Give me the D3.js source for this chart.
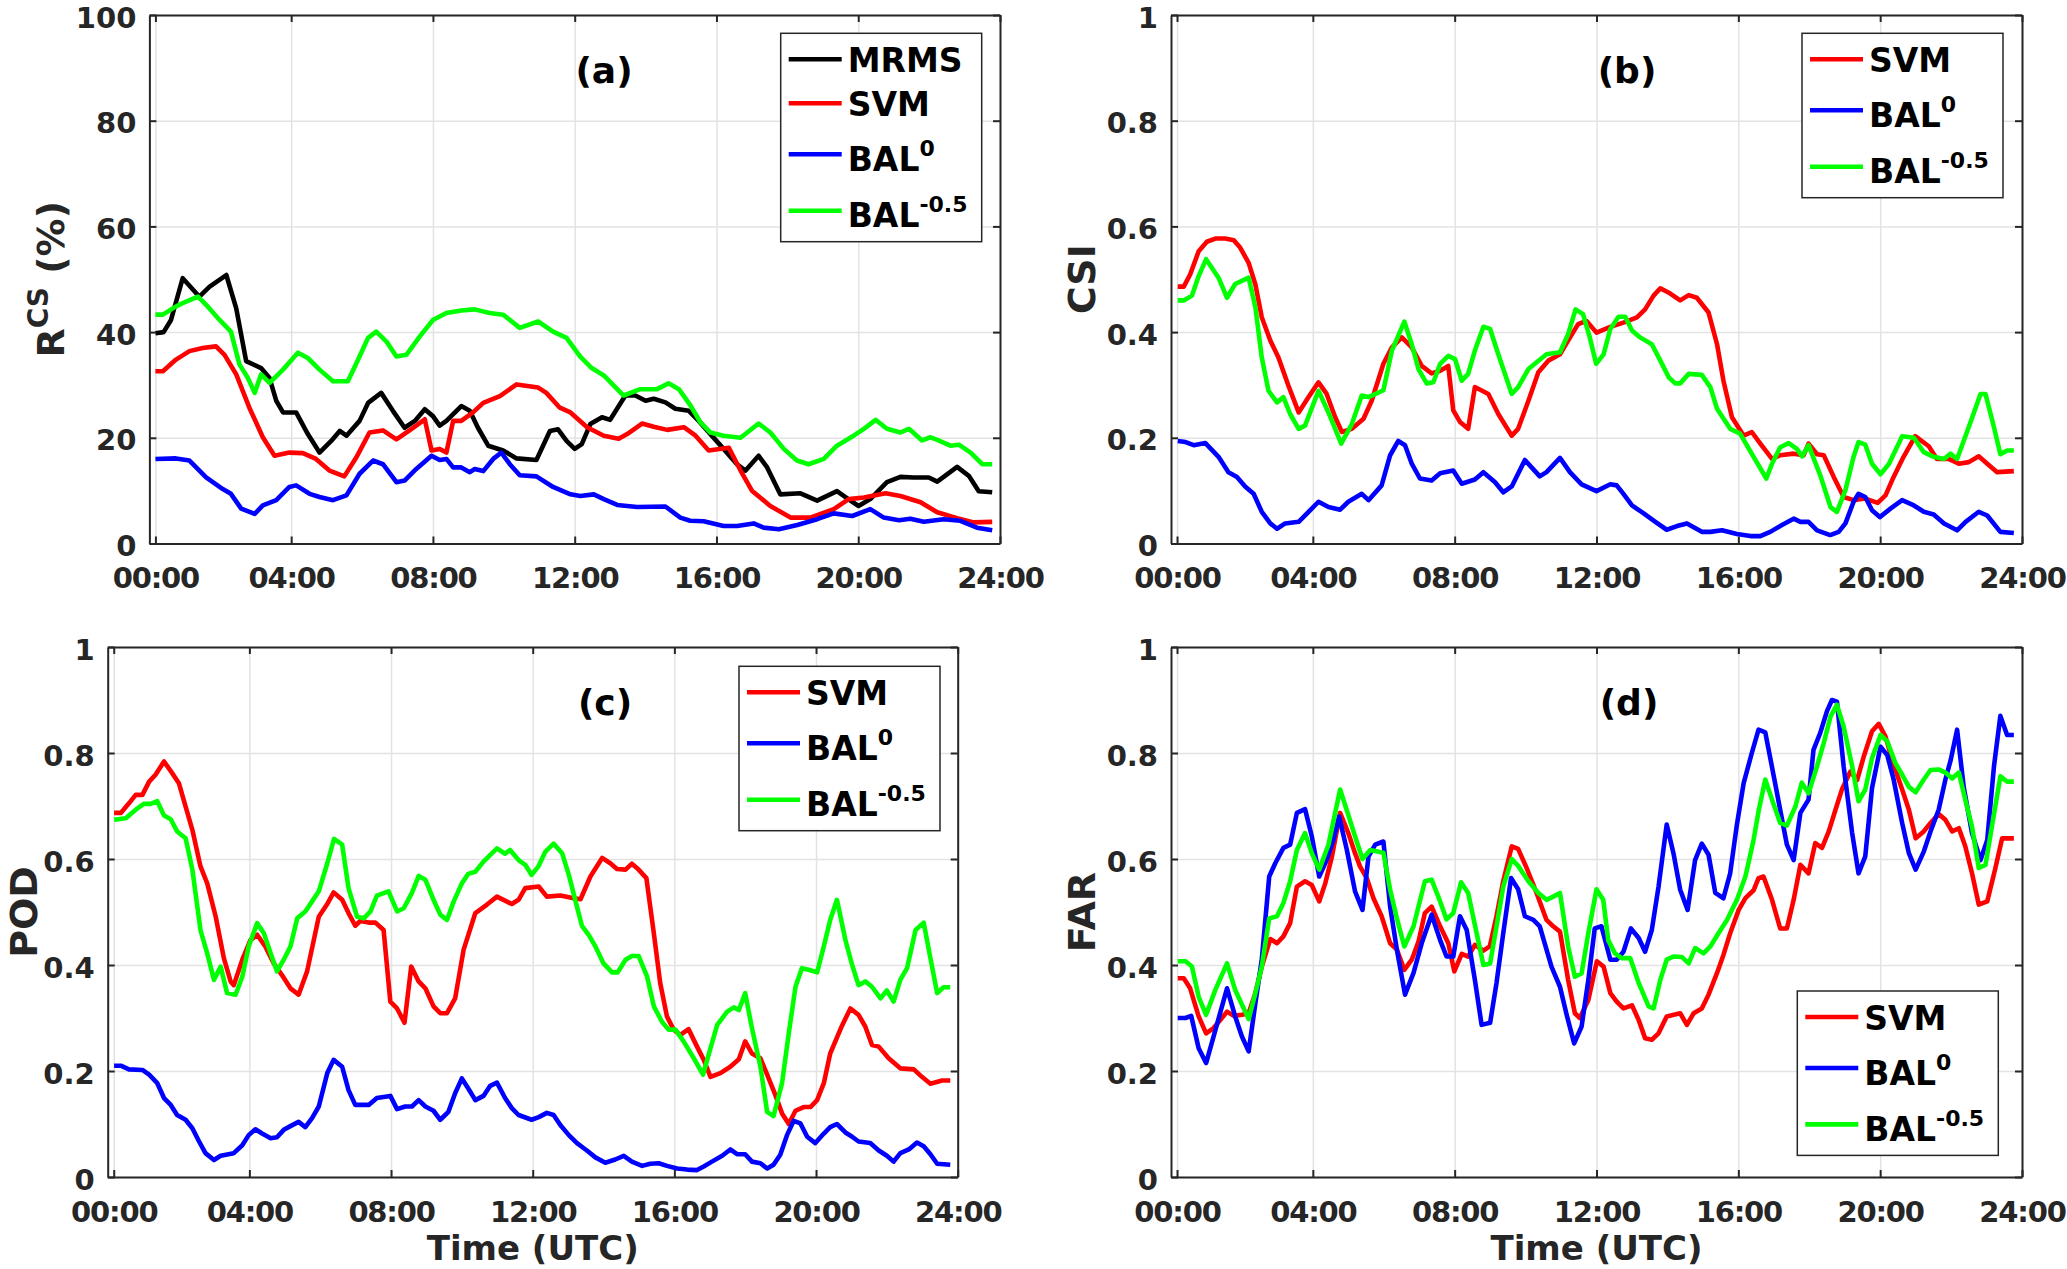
<!DOCTYPE html>
<html>
<head>
<meta charset="utf-8">
<script src="https://cdn.jsdelivr.net/npm/d3@7"></script>
<style>
  html, body { margin: 0; padding: 0; background: #fff; overflow: hidden; }
</style>
</head>
<body>
<div id="chart"></div>
<script>
const FONT = "'DejaVu Sans', 'Liberation Sans', sans-serif";
const INK = '#262626';

// x axis: hours of the day (first tick sits on the first 10-min sample)
const hourTicks = [0.17, 4, 8, 12, 16, 20, 24];
const hourLabels = ['00:00', '04:00', '08:00', '12:00', '16:00', '20:00', '24:00'];
const rcsTicks = [0, 20, 40, 60, 80, 100];
const rcsLabels = ['0', '20', '40', '60', '80', '100'];
const scoreTicks = [0, 0.2, 0.4, 0.6, 0.8, 1];
const scoreLabels = ['0', '0.2', '0.4', '0.6', '0.8', '1'];

// (a) R^CS (%)  -- [hour, value]
const rcsMRMS = [[0.17,39.8],[0.4,40],[0.61,42.3],[0.94,50.2],[1.41,46.7],[1.7,48.6],[2.17,50.8],[2.45,44.5],[2.73,34.5],[3.15,33.2],[3.39,31.3],[3.58,27],[3.77,24.8],[4.14,24.8],[4.47,20.7],[4.8,17.2],[5.13,19.4],[5.37,21.3],[5.56,20.4],[5.93,23.2],[6.17,26.6],[6.54,28.5],[6.87,25.1],[7.2,21.9],[7.49,23.2],[7.77,25.4],[8.0,24.1],[8.19,22.3],[8.38,23.2],[8.8,26.0],[9.04,25.1],[9.27,21.9],[9.56,18.5],[9.98,17.6],[10.36,16.1],[10.92,15.8],[11.3,21.3],[11.53,21.6],[11.77,19.4],[12.0,17.9],[12.2,18.8],[12.44,22.6],[12.77,23.9],[13.0,23.4],[13.43,28],[13.71,28],[14.0,27],[14.23,27.4],[14.56,26.7],[14.84,25.5],[15.22,25.1],[15.5,23.2],[15.83,20.7],[16.2,17.9],[16.58,15],[16.82,13.8],[17.19,16.6],[17.43,14.4],[17.8,9.3],[18.37,9.5],[18.84,8.1],[19.4,9.9],[19.78,8.1],[20.01,7.1],[20.34,8.4],[20.81,11.6],[21.19,12.6],[21.56,12.5],[21.99,12.5],[22.23,11.7],[22.79,14.5],[23.12,12.8],[23.4,9.9],[23.78,9.7]];
const rcsSVM = [[0.17,32.6],[0.38,32.6],[0.75,34.8],[1.13,36.4],[1.5,37],[1.88,37.3],[2.12,35.7],[2.45,32],[2.82,25.7],[3.2,20.1],[3.53,16.6],[3.95,17.2],[4.33,17.1],[4.7,16],[5.08,13.8],[5.5,12.7],[5.84,16.3],[6.21,21],[6.59,21.4],[6.97,19.7],[7.34,21.4],[7.77,23.5],[7.96,17.6],[8.19,17.9],[8.38,17.2],[8.57,23.2],[8.8,23.2],[9.13,24.8],[9.42,26.6],[9.89,27.9],[10.36,30.1],[10.97,29.5],[11.2,28.5],[11.58,25.7],[11.88,24.8],[12.35,22],[12.82,20.4],[13.24,19.8],[13.48,20.7],[13.9,22.7],[14.23,22.1],[14.61,21.5],[15.08,22],[15.41,20.4],[15.78,17.6],[16.35,18.1],[16.68,13.8],[17.0,10],[17.52,7.1],[18.09,4.9],[18.65,4.9],[19.31,6.5],[19.73,8.4],[20.16,8.7],[20.77,9.5],[21.19,9.0],[21.76,7.8],[22.23,5.9],[22.79,4.8],[23.26,4.0],[23.78,4.1]];
const rcsBAL0 = [[0.17,16],[0.75,16.1],[1.13,15.7],[1.6,12.5],[2.07,10.3],[2.3,9.4],[2.59,6.6],[2.97,5.6],[3.2,7.2],[3.58,8.2],[3.95,10.7],[4.14,11],[4.52,9.4],[4.8,8.8],[5.18,8.2],[5.56,9.1],[5.93,13.2],[6.31,15.7],[6.59,15],[6.97,11.6],[7.2,11.9],[7.53,14.1],[7.96,16.6],[8.19,15.8],[8.38,16],[8.57,14.4],[8.8,14.4],[9.04,13.5],[9.18,14.1],[9.42,13.7],[9.7,16],[9.93,17.2],[10.17,15],[10.45,12.9],[10.92,12.7],[11.39,10.7],[11.88,9.3],[12.16,9.0],[12.54,9.3],[12.82,8.4],[13.2,7.3],[13.76,6.9],[14.56,7.0],[14.98,4.9],[15.26,4.3],[15.64,4.2],[16.2,3.3],[16.58,3.3],[17.05,3.8],[17.33,3.0],[17.76,2.7],[18.28,3.5],[18.84,4.6],[19.31,5.7],[19.83,5.2],[20.34,6.5],[20.72,4.9],[21.15,4.4],[21.47,4.7],[21.85,4.1],[22.41,4.6],[22.88,4.3],[23.35,3.0],[23.78,2.5]];
const rcsBAL05 = [[0.17,43.3],[0.38,43.3],[0.66,44.5],[0.94,45.5],[1.37,46.7],[1.65,44.8],[1.98,42.3],[2.3,40.1],[2.54,33.9],[2.78,31.3],[2.97,28.5],[3.15,32],[3.39,30.4],[3.77,32.9],[4.19,36.1],[4.47,35.1],[4.8,32.9],[5.18,30.7],[5.6,30.7],[5.89,34.8],[6.17,38.9],[6.4,40.1],[6.69,38.2],[6.97,35.4],[7.25,35.7],[7.63,39.2],[8.0,42.3],[8.38,43.6],[8.8,44.1],[9.18,44.3],[9.6,43.6],[9.98,43.3],[10.45,40.8],[10.97,42],[11.39,40.1],[11.77,38.9],[12.15,35.4],[12.48,33.2],[12.82,31.8],[13.38,28],[13.85,29.2],[14.32,29.2],[14.65,30.3],[14.94,29.2],[15.27,26.1],[15.55,22.9],[15.83,21],[16.2,20.4],[16.68,20],[17.19,22.7],[17.52,21],[17.9,17.9],[18.27,15.7],[18.6,15],[19.03,16],[19.4,18.5],[19.87,20.4],[20.16,21.7],[20.49,23.4],[20.81,21.7],[21.19,21],[21.43,21.7],[21.8,19.5],[22.04,20.1],[22.23,19.6],[22.6,18.5],[22.84,18.7],[23.17,17.2],[23.5,15],[23.78,15]];

// (b) CSI
const csiSVM = [[0.19,0.486],[0.36,0.486],[0.54,0.509],[0.78,0.553],[1.01,0.571],[1.25,0.577],[1.53,0.577],[1.77,0.574],[1.95,0.56],[2.19,0.531],[2.38,0.49],[2.56,0.428],[2.8,0.384],[3.03,0.352],[3.31,0.299],[3.6,0.248],[3.88,0.277],[4.16,0.305],[4.39,0.283],[4.63,0.239],[4.82,0.211],[5.1,0.217],[5.43,0.236],[5.66,0.27],[5.99,0.34],[6.23,0.371],[6.51,0.39],[6.79,0.371],[7.07,0.336],[7.35,0.322],[7.59,0.327],[7.82,0.336],[7.96,0.252],[8.15,0.23],[8.38,0.217],[8.57,0.296],[8.95,0.283],[9.23,0.245],[9.61,0.204],[9.79,0.217],[10.08,0.27],[10.36,0.324],[10.64,0.346],[10.97,0.358],[11.2,0.384],[11.48,0.415],[11.72,0.421],[12.0,0.399],[12.39,0.41],[12.76,0.418],[13.14,0.428],[13.37,0.443],[13.61,0.469],[13.8,0.483],[14.08,0.473],[14.36,0.46],[14.6,0.47],[14.83,0.465],[15.16,0.437],[15.4,0.377],[15.58,0.308],[15.82,0.239],[16.15,0.204],[16.38,0.211],[16.62,0.189],[16.95,0.16],[17.18,0.167],[17.56,0.17],[17.84,0.167],[17.98,0.189],[18.22,0.169],[18.41,0.167],[18.69,0.126],[18.97,0.088],[19.25,0.082],[19.58,0.085],[19.93,0.077],[20.15,0.091],[20.38,0.126],[20.66,0.164],[20.99,0.203],[21.37,0.184],[21.6,0.16],[21.93,0.16],[22.22,0.151],[22.5,0.154],[22.78,0.165],[23.02,0.151],[23.3,0.135],[23.77,0.137]];
const csiBAL0 = [[0.19,0.194],[0.41,0.192],[0.64,0.186],[0.97,0.19],[1.34,0.164],[1.62,0.135],[1.86,0.126],[2.09,0.108],[2.33,0.094],[2.56,0.06],[2.8,0.038],[2.99,0.028],[3.22,0.038],[3.6,0.041],[3.88,0.06],[4.16,0.079],[4.44,0.069],[4.77,0.064],[5.0,0.079],[5.38,0.094],[5.57,0.082],[5.94,0.11],[6.18,0.167],[6.41,0.194],[6.6,0.186],[6.79,0.151],[7.02,0.123],[7.35,0.119],[7.59,0.133],[7.96,0.138],[8.2,0.113],[8.57,0.121],[8.81,0.135],[9.14,0.116],[9.37,0.097],[9.61,0.108],[9.98,0.158],[10.4,0.127],[10.59,0.135],[10.97,0.162],[11.25,0.135],[11.58,0.112],[12.0,0.099],[12.39,0.112],[12.57,0.11],[12.76,0.094],[13.0,0.072],[13.33,0.057],[13.66,0.041],[13.98,0.026],[14.27,0.033],[14.55,0.038],[14.97,0.022],[15.21,0.022],[15.54,0.025],[15.96,0.018],[16.34,0.014],[16.62,0.014],[16.9,0.022],[17.23,0.035],[17.56,0.047],[17.75,0.041],[17.98,0.041],[18.22,0.025],[18.59,0.016],[18.83,0.022],[19.02,0.038],[19.25,0.079],[19.39,0.094],[19.58,0.088],[19.77,0.063],[19.99,0.05],[20.29,0.066],[20.62,0.082],[20.95,0.072],[21.23,0.06],[21.51,0.055],[21.8,0.038],[22.17,0.025],[22.41,0.041],[22.78,0.06],[23.02,0.053],[23.39,0.022],[23.77,0.02]];
const csiBAL05 = [[0.19,0.46],[0.36,0.46],[0.59,0.469],[0.78,0.506],[0.99,0.538],[1.34,0.503],[1.58,0.465],[1.81,0.491],[2.19,0.503],[2.38,0.447],[2.56,0.352],[2.75,0.289],[2.99,0.267],[3.17,0.277],[3.36,0.245],[3.6,0.217],[3.78,0.223],[4.16,0.289],[4.44,0.248],[4.8,0.189],[5.1,0.226],[5.38,0.28],[5.57,0.277],[5.99,0.29],[6.23,0.365],[6.58,0.42],[6.79,0.377],[6.98,0.33],[7.21,0.303],[7.4,0.305],[7.59,0.34],[7.82,0.355],[8.01,0.349],[8.2,0.308],[8.38,0.321],[8.57,0.365],[8.81,0.41],[9.0,0.406],[9.23,0.358],[9.61,0.283],[9.79,0.296],[10.08,0.33],[10.26,0.34],[10.59,0.358],[10.97,0.362],[11.2,0.396],[11.41,0.443],[11.62,0.434],[11.81,0.39],[11.99,0.34],[12.2,0.358],[12.39,0.406],[12.62,0.429],[12.81,0.429],[13.0,0.403],[13.23,0.39],[13.56,0.377],[13.8,0.346],[14.04,0.314],[14.22,0.303],[14.36,0.303],[14.6,0.321],[14.97,0.319],[15.21,0.296],[15.4,0.255],[15.77,0.217],[16.05,0.208],[16.43,0.164],[16.79,0.123],[16.95,0.151],[17.18,0.182],[17.42,0.19],[17.65,0.179],[17.8,0.165],[17.98,0.186],[18.31,0.129],[18.6,0.069],[18.78,0.06],[19.02,0.101],[19.25,0.164],[19.39,0.192],[19.58,0.187],[19.77,0.151],[20.01,0.131],[20.25,0.151],[20.62,0.203],[20.95,0.2],[21.23,0.173],[21.51,0.164],[21.8,0.16],[21.98,0.17],[22.17,0.16],[22.55,0.23],[22.83,0.283],[22.97,0.283],[23.21,0.22],[23.39,0.169],[23.58,0.176],[23.77,0.176]];

// (c) POD
const podSVM = [[0.18,0.687],[0.37,0.687],[0.6,0.705],[0.79,0.721],[0.98,0.721],[1.17,0.746],[1.35,0.759],[1.59,0.784],[1.82,0.762],[2.01,0.743],[2.2,0.699],[2.39,0.655],[2.62,0.586],[2.81,0.554],[3.05,0.491],[3.28,0.413],[3.47,0.369],[3.56,0.362],[3.8,0.41],[4.03,0.447],[4.22,0.457],[4.45,0.435],[4.69,0.403],[4.92,0.381],[5.16,0.356],[5.39,0.344],[5.63,0.388],[5.96,0.491],[6.19,0.514],[6.38,0.537],[6.62,0.523],[6.8,0.498],[6.99,0.474],[7.13,0.483],[7.37,0.48],[7.56,0.48],[7.79,0.466],[7.98,0.331],[8.17,0.318],[8.38,0.291],[8.57,0.397],[8.78,0.369],[8.97,0.356],[9.2,0.322],[9.39,0.309],[9.58,0.309],[9.81,0.337],[10.05,0.429],[10.38,0.498],[10.71,0.514],[10.99,0.529],[11.41,0.515],[11.6,0.523],[11.79,0.545],[12.17,0.548],[12.4,0.529],[12.78,0.531],[13.16,0.526],[13.35,0.524],[13.63,0.567],[13.96,0.602],[14.19,0.592],[14.38,0.581],[14.62,0.58],[14.8,0.591],[14.99,0.58],[15.21,0.564],[15.42,0.46],[15.6,0.366],[15.79,0.303],[15.98,0.278],[16.17,0.268],[16.4,0.279],[16.64,0.246],[16.83,0.221],[17.02,0.189],[17.3,0.196],[17.58,0.208],[17.82,0.222],[18.0,0.256],[18.19,0.233],[18.43,0.224],[18.62,0.193],[18.85,0.155],[19.04,0.12],[19.23,0.1],[19.42,0.125],[19.65,0.132],[19.84,0.132],[20.03,0.145],[20.22,0.177],[20.4,0.233],[20.73,0.285],[20.97,0.318],[21.2,0.306],[21.39,0.284],[21.58,0.249],[21.77,0.246],[22.05,0.224],[22.38,0.205],[22.76,0.203],[22.99,0.189],[23.23,0.176],[23.56,0.182],[23.79,0.182]];
const podBAL0 = [[0.18,0.21],[0.37,0.21],[0.6,0.203],[0.98,0.202],[1.17,0.193],[1.4,0.177],[1.59,0.149],[1.78,0.136],[1.96,0.117],[2.2,0.108],[2.39,0.092],[2.58,0.067],[2.76,0.045],[3.0,0.032],[3.19,0.04],[3.56,0.045],[3.8,0.06],[3.98,0.079],[4.17,0.09],[4.36,0.082],[4.6,0.073],[4.78,0.075],[4.97,0.089],[5.16,0.096],[5.39,0.104],[5.58,0.094],[5.77,0.111],[5.96,0.133],[6.2,0.196],[6.38,0.221],[6.62,0.208],[6.8,0.164],[6.99,0.136],[7.37,0.136],[7.6,0.149],[7.98,0.153],[8.17,0.128],[8.4,0.133],[8.59,0.133],[8.78,0.145],[8.97,0.133],[9.2,0.125],[9.39,0.108],[9.62,0.123],[9.81,0.158],[10.0,0.186],[10.19,0.166],[10.38,0.145],[10.61,0.153],[10.8,0.172],[10.99,0.178],[11.22,0.149],[11.41,0.13],[11.6,0.117],[11.97,0.108],[12.17,0.113],[12.4,0.121],[12.59,0.117],[12.78,0.098],[13.02,0.079],[13.25,0.064],[13.53,0.05],[13.77,0.037],[14.05,0.027],[14.33,0.033],[14.57,0.04],[14.8,0.029],[15.09,0.021],[15.32,0.025],[15.56,0.026],[15.79,0.021],[16.08,0.016],[16.36,0.014],[16.64,0.013],[16.83,0.02],[17.06,0.029],[17.35,0.04],[17.58,0.052],[17.77,0.043],[18.0,0.043],[18.19,0.029],[18.43,0.026],[18.62,0.016],[18.8,0.023],[18.99,0.042],[19.18,0.079],[19.37,0.106],[19.56,0.101],[19.75,0.076],[19.98,0.064],[20.22,0.082],[20.4,0.094],[20.59,0.1],[20.83,0.084],[21.02,0.076],[21.2,0.067],[21.53,0.064],[21.77,0.05],[22.0,0.04],[22.19,0.029],[22.38,0.045],[22.62,0.052],[22.85,0.065],[23.04,0.058],[23.23,0.043],[23.42,0.025],[23.79,0.023]];
const podBAL05 = [[0.18,0.674],[0.51,0.677],[0.79,0.693],[1.02,0.704],[1.21,0.704],[1.4,0.709],[1.59,0.682],[1.78,0.675],[1.96,0.652],[2.2,0.639],[2.39,0.58],[2.62,0.466],[2.81,0.422],[3.0,0.372],[3.19,0.397],[3.37,0.347],[3.61,0.344],[3.8,0.378],[3.98,0.435],[4.22,0.479],[4.41,0.46],[4.6,0.422],[4.78,0.388],[4.97,0.41],[5.16,0.435],[5.35,0.488],[5.58,0.501],[5.77,0.52],[5.96,0.539],[6.2,0.592],[6.39,0.638],[6.62,0.627],[6.8,0.545],[7.04,0.491],[7.23,0.488],[7.42,0.501],[7.6,0.531],[7.93,0.539],[8.17,0.501],[8.36,0.507],[8.59,0.536],[8.78,0.568],[8.97,0.561],[9.2,0.523],[9.39,0.495],[9.58,0.485],[9.77,0.52],[10.0,0.554],[10.18,0.572],[10.38,0.576],[10.61,0.595],[10.99,0.62],[11.22,0.61],[11.36,0.617],[11.6,0.598],[11.79,0.589],[11.97,0.57],[12.16,0.586],[12.36,0.614],[12.59,0.629],[12.83,0.611],[13.02,0.57],[13.2,0.523],[13.39,0.474],[13.58,0.457],[13.77,0.435],[14.0,0.403],[14.24,0.386],[14.4,0.386],[14.62,0.41],[14.8,0.417],[14.99,0.417],[15.23,0.378],[15.42,0.322],[15.65,0.293],[15.84,0.278],[16.03,0.278],[16.26,0.256],[16.55,0.224],[16.81,0.193],[17.02,0.243],[17.21,0.287],[17.49,0.312],[17.68,0.32],[17.82,0.315],[18.0,0.347],[18.19,0.281],[18.43,0.208],[18.62,0.123],[18.8,0.115],[19.04,0.177],[19.23,0.271],[19.42,0.359],[19.6,0.394],[19.79,0.391],[20.03,0.386],[20.22,0.435],[20.4,0.485],[20.59,0.523],[20.83,0.447],[21.02,0.4],[21.2,0.362],[21.39,0.369],[21.58,0.359],[21.82,0.337],[22.0,0.352],[22.19,0.331],[22.38,0.372],[22.57,0.394],[22.81,0.466],[23.04,0.48],[23.23,0.413],[23.42,0.347],[23.6,0.358],[23.79,0.358]];

// (d) FAR
const farSVM = [[0.19,0.375],[0.36,0.375],[0.54,0.356],[0.78,0.303],[0.99,0.271],[1.2,0.281],[1.39,0.296],[1.58,0.312],[1.77,0.304],[2.0,0.306],[2.19,0.309],[2.38,0.347],[2.56,0.397],[2.8,0.449],[2.99,0.441],[3.17,0.454],[3.36,0.479],[3.55,0.548],[3.78,0.558],[3.97,0.551],[4.18,0.52],[4.35,0.554],[4.54,0.605],[4.77,0.687],[5.0,0.649],[5.19,0.611],[5.33,0.586],[5.52,0.564],[5.71,0.526],[5.94,0.492],[6.18,0.441],[6.37,0.429],[6.58,0.391],[6.79,0.41],[6.98,0.444],[7.16,0.498],[7.35,0.51],[7.59,0.473],[7.82,0.441],[7.99,0.388],[8.2,0.421],[8.38,0.416],[8.57,0.438],[8.81,0.427],[8.99,0.435],[9.18,0.492],[9.37,0.558],[9.61,0.624],[9.79,0.619],[10.03,0.583],[10.31,0.536],[10.59,0.485],[10.78,0.473],[10.97,0.463],[11.2,0.372],[11.39,0.309],[11.53,0.3],[11.77,0.334],[12.01,0.407],[12.2,0.397],[12.39,0.347],[12.57,0.331],[12.76,0.318],[13.0,0.324],[13.19,0.296],[13.37,0.262],[13.56,0.259],[13.75,0.271],[13.98,0.303],[14.36,0.309],[14.55,0.287],[14.74,0.309],[14.97,0.318],[15.16,0.344],[15.4,0.385],[15.58,0.419],[15.77,0.46],[16.01,0.504],[16.2,0.526],[16.43,0.541],[16.57,0.564],[16.71,0.567],[16.95,0.523],[17.18,0.469],[17.37,0.469],[17.56,0.523],[17.75,0.589],[17.98,0.573],[18.17,0.63],[18.36,0.621],[18.55,0.652],[18.74,0.693],[18.92,0.731],[19.16,0.765],[19.35,0.749],[19.54,0.794],[19.77,0.841],[19.96,0.855],[20.15,0.831],[20.38,0.778],[20.62,0.731],[20.81,0.693],[21.0,0.639],[21.23,0.652],[21.42,0.668],[21.65,0.685],[21.84,0.674],[22.03,0.652],[22.22,0.658],[22.4,0.624],[22.59,0.573],[22.78,0.514],[23.02,0.52],[23.25,0.583],[23.44,0.639],[23.77,0.639]];
const farBAL0 = [[0.19,0.3],[0.41,0.3],[0.57,0.304],[0.78,0.243],[0.99,0.215],[1.2,0.265],[1.58,0.356],[1.81,0.303],[2.0,0.265],[2.19,0.237],[2.38,0.328],[2.56,0.41],[2.77,0.567],[2.94,0.592],[3.17,0.621],[3.36,0.627],[3.55,0.687],[3.78,0.694],[3.97,0.643],[4.18,0.567],[4.39,0.598],[4.58,0.636],[4.74,0.68],[4.96,0.617],[5.19,0.539],[5.4,0.504],[5.57,0.605],[5.76,0.627],[5.99,0.633],[6.18,0.51],[6.37,0.429],[6.6,0.344],[6.84,0.385],[7.07,0.441],[7.35,0.495],[7.59,0.447],[7.77,0.416],[7.96,0.416],[8.15,0.492],[8.34,0.466],[8.57,0.372],[8.76,0.287],[9.0,0.291],[9.18,0.366],[9.37,0.46],[9.59,0.564],[9.79,0.543],[9.98,0.492],[10.22,0.485],[10.4,0.473],[10.73,0.397],[10.97,0.359],[11.17,0.303],[11.37,0.252],[11.58,0.284],[11.77,0.372],[11.95,0.469],[12.14,0.473],[12.39,0.41],[12.57,0.41],[12.76,0.425],[12.97,0.469],[13.19,0.451],[13.37,0.425],[13.56,0.466],[13.75,0.548],[13.98,0.665],[14.17,0.611],[14.36,0.542],[14.57,0.504],[14.78,0.598],[14.97,0.629],[15.16,0.608],[15.35,0.536],[15.58,0.526],[15.77,0.573],[15.96,0.665],[16.15,0.743],[16.38,0.8],[16.57,0.844],[16.76,0.839],[17.0,0.756],[17.18,0.693],[17.37,0.627],[17.56,0.598],[17.75,0.687],[17.98,0.712],[18.12,0.806],[18.31,0.838],[18.5,0.879],[18.64,0.9],[18.78,0.897],[18.97,0.775],[19.21,0.649],[19.39,0.573],[19.58,0.605],[19.77,0.734],[20.01,0.812],[20.2,0.796],[20.38,0.75],[20.62,0.668],[20.81,0.611],[21.0,0.58],[21.23,0.614],[21.42,0.652],[21.65,0.693],[21.84,0.75],[21.99,0.787],[22.17,0.844],[22.36,0.734],[22.59,0.649],[22.83,0.598],[23.02,0.636],[23.21,0.775],[23.39,0.87],[23.58,0.834],[23.77,0.834]];
const farBAL05 = [[0.19,0.407],[0.41,0.407],[0.59,0.397],[0.78,0.34],[0.99,0.306],[1.25,0.353],[1.58,0.403],[1.81,0.353],[2.19,0.298],[2.38,0.347],[2.56,0.397],[2.77,0.488],[2.99,0.492],[3.17,0.517],[3.36,0.558],[3.55,0.617],[3.78,0.649],[3.97,0.611],[4.18,0.58],[4.44,0.627],[4.77,0.731],[5.0,0.683],[5.19,0.643],[5.4,0.6],[5.62,0.617],[5.99,0.612],[6.18,0.542],[6.37,0.488],[6.58,0.435],[6.84,0.473],[7.16,0.558],[7.35,0.561],[7.59,0.52],[7.77,0.486],[7.96,0.498],[8.18,0.556],[8.38,0.536],[8.62,0.46],[8.81,0.4],[9.0,0.403],[9.18,0.473],[9.37,0.548],[9.61,0.6],[9.79,0.587],[10.08,0.558],[10.36,0.536],[10.59,0.523],[10.78,0.529],[10.97,0.536],[11.2,0.435],[11.39,0.378],[11.58,0.384],[11.77,0.46],[12.0,0.543],[12.19,0.523],[12.33,0.447],[12.52,0.422],[12.71,0.413],[12.95,0.413],[13.19,0.366],[13.47,0.322],[13.61,0.318],[13.8,0.372],[13.98,0.41],[14.17,0.416],[14.41,0.415],[14.6,0.403],[14.78,0.432],[15.02,0.422],[15.21,0.435],[15.44,0.46],[15.68,0.485],[15.96,0.523],[16.2,0.567],[16.43,0.636],[16.57,0.69],[16.76,0.75],[16.95,0.712],[17.18,0.668],[17.37,0.663],[17.61,0.699],[17.79,0.744],[17.98,0.724],[18.22,0.775],[18.41,0.819],[18.6,0.869],[18.78,0.891],[18.97,0.85],[19.21,0.775],[19.39,0.709],[19.58,0.731],[19.77,0.79],[20.01,0.834],[20.2,0.822],[20.43,0.781],[20.62,0.759],[20.81,0.736],[21.0,0.726],[21.23,0.75],[21.42,0.768],[21.65,0.769],[21.84,0.763],[22.03,0.752],[22.22,0.763],[22.4,0.712],[22.59,0.661],[22.78,0.583],[22.97,0.589],[23.16,0.665],[23.39,0.756],[23.58,0.746],[23.77,0.746]];

const names = {
  MRMS: { base: 'MRMS', sup: null, color: '#000000' },
  SVM: { base: 'SVM', sup: null, color: '#ff0000' },
  BAL0: { base: 'BAL', sup: '0', color: '#0000ff' },
  BAL05: { base: 'BAL', sup: '-0.5', color: '#00ff00' }
};

const panels = [
  { box: [149.4, 1000, 15, 543.5], yMax: 100, yTicks: rcsTicks, yLabels: rcsLabels,
    ylabel: { base: 'R', sup: 'CS', rest: ' (%)' }, title: '(a)', titleX: 604, xlabel: false,
    series: [[rcsMRMS, 'MRMS'], [rcsSVM, 'SVM'], [rcsBAL0, 'BAL0'], [rcsBAL05, 'BAL05']],
    legend: [780.7, 33.3] },
  { box: [1171, 2022, 15, 543.5], yMax: 1, yTicks: scoreTicks, yLabels: scoreLabels,
    ylabel: { base: 'CSI' }, title: '(b)', titleX: 1627, xlabel: false,
    series: [[csiSVM, 'SVM'], [csiBAL0, 'BAL0'], [csiBAL05, 'BAL05']],
    legend: [1802, 33.3] },
  { box: [107.7, 957.7, 647, 1177], yMax: 1, yTicks: scoreTicks, yLabels: scoreLabels,
    ylabel: { base: 'POD' }, title: '(c)', titleX: 605, xlabel: true,
    series: [[podSVM, 'SVM'], [podBAL0, 'BAL0'], [podBAL05, 'BAL05']],
    legend: [739, 666.3] },
  { box: [1171, 2022, 647, 1177], yMax: 1, yTicks: scoreTicks, yLabels: scoreLabels,
    ylabel: { base: 'FAR' }, title: '(d)', titleX: 1629, xlabel: true,
    series: [[farSVM, 'SVM'], [farBAL0, 'BAL0'], [farBAL05, 'BAL05']],
    legend: [1797.3, 991] }
];

const svg = d3.select('#chart')
  .append('svg')
  .attr('width', 2067)
  .attr('height', 1269)
  .style('font-family', FONT)
  .style('font-weight', 'bold');

panels.forEach(drawPanel);

function styleAxis(sel, size) {
  sel.attr('font-family', FONT).attr('font-size', size).attr('font-weight', 'bold');
  sel.select('.domain').attr('stroke', INK).attr('stroke-width', 2);
  sel.selectAll('.tick line').attr('stroke', INK).attr('stroke-width', 2);
  sel.selectAll('.tick text').attr('fill', INK);
}

function drawPanel(p) {
  const [x0, x1, y0, y1] = p.box;
  const x = d3.scaleLinear().domain([0, 24]).range([x0, x1]);
  const y = d3.scaleLinear().domain([0, p.yMax]).range([y1, y0]);
  const g = svg.append('g');

  // grid
  g.append('g')
    .attr('transform', `translate(0,${y1})`)
    .call(d3.axisBottom(x).tickValues(hourTicks).tickSize(-(y1 - y0)).tickFormat(''))
    .call(a => a.select('.domain').remove())
    .selectAll('line').attr('stroke', '#e3e3e3').attr('stroke-width', 1.5);
  g.append('g')
    .attr('transform', `translate(${x0},0)`)
    .call(d3.axisLeft(y).tickValues(p.yTicks).tickSize(-(x1 - x0)).tickFormat(''))
    .call(a => a.select('.domain').remove())
    .selectAll('line').attr('stroke', '#e3e3e3').attr('stroke-width', 1.5);

  // data lines
  const line = d3.line().x(d => x(d[0])).y(d => y(d[1]));
  p.series.forEach(([data, key]) => {
    g.append('path')
      .datum(data)
      .attr('d', line)
      .attr('fill', 'none')
      .attr('stroke', names[key].color)
      .attr('stroke-width', 4.6)
      .attr('stroke-linejoin', 'round');
  });

  // box axes, ticks pointing inwards
  g.append('g').attr('transform', `translate(0,${y1})`)
    .call(d3.axisBottom(x).tickValues(hourTicks).tickFormat((d, i) => hourLabels[i])
      .tickSize(-7).tickSizeOuter(0).tickPadding(24))
    .call(a => styleAxis(a, 29))
    .call(a => a.selectAll('.tick text').attr('letter-spacing', -1.2));
  g.append('g').attr('transform', `translate(0,${y0})`)
    .call(d3.axisTop(x).tickValues(hourTicks).tickFormat('').tickSize(-7).tickSizeOuter(0))
    .call(a => styleAxis(a, 29));
  const left = g.append('g').attr('transform', `translate(${x0},0)`)
    .call(d3.axisLeft(y).tickValues(p.yTicks).tickFormat((d, i) => p.yLabels[i])
      .tickSize(-7).tickSizeOuter(0).tickPadding(13))
    .call(a => styleAxis(a, 29))
    .call(a => a.selectAll('.tick text').attr('dy', '0.42em'));
  g.append('g').attr('transform', `translate(${x1},0)`)
    .call(d3.axisRight(y).tickValues(p.yTicks).tickFormat('').tickSize(-7).tickSizeOuter(0))
    .call(a => styleAxis(a, 29));

  // y label just left of the widest tick label, kept inside the page
  const labelSize = 38;
  const widest = d3.max(left.selectAll('.tick text').nodes(), n => n.getComputedTextLength());
  const lx = Math.max(x0 - 13 - widest - 12, Math.ceil(labelSize * 0.95));
  const yl = g.append('text')
    .attr('transform', `translate(${lx},${(y0 + y1) / 2}) rotate(-90)`)
    .attr('text-anchor', 'middle')
    .attr('font-size', labelSize)
    .attr('fill', INK);
  yl.append('tspan').text(p.ylabel.base);
  if (p.ylabel.sup) {
    yl.append('tspan').attr('dy', -16).attr('font-size', 28).text(p.ylabel.sup);
    yl.append('tspan').attr('dy', 16).text(p.ylabel.rest);
  }

  if (p.xlabel) {
    g.append('text')
      .attr('x', (x0 + x1) / 2)
      .attr('y', 1260)
      .attr('text-anchor', 'middle')
      .attr('font-size', 34)
      .attr('fill', INK)
      .text('Time (UTC)');
  }

  // panel tag
  g.append('text')
    .attr('x', p.titleX)
    .attr('y', y0 + 68)
    .attr('text-anchor', 'middle')
    .attr('font-size', 36)
    .attr('fill', '#000')
    .text(p.title);

  // legend
  const rows = p.series.length === 4 ? [26, 70, 121, 177.4] : [26, 77, 133.4];
  const boxH = p.series.length === 4 ? 208.4 : 164.4;
  const [lgx, lgy] = p.legend;
  const lg = g.append('g');
  lg.append('rect')
    .attr('x', lgx).attr('y', lgy)
    .attr('width', 201).attr('height', boxH)
    .attr('fill', '#fff')
    .attr('stroke', INK)
    .attr('stroke-width', 1.5);
  p.series.forEach(([, key], i) => {
    const n = names[key];
    const ry = lgy + rows[i];
    lg.append('line')
      .attr('x1', lgx + 8).attr('x2', lgx + 61)
      .attr('y1', ry).attr('y2', ry)
      .attr('stroke', n.color)
      .attr('stroke-width', 4.6);
    const t = lg.append('text')
      .attr('x', lgx + 67)
      .attr('y', ry + (n.sup ? 16.5 : 12.5))
      .attr('font-size', 33)
      .attr('fill', '#000');
    t.append('tspan').text(n.base);
    if (n.sup) t.append('tspan').attr('dy', -15).attr('font-size', 22).text(n.sup);
  });
}
</script>
</body>
</html>
